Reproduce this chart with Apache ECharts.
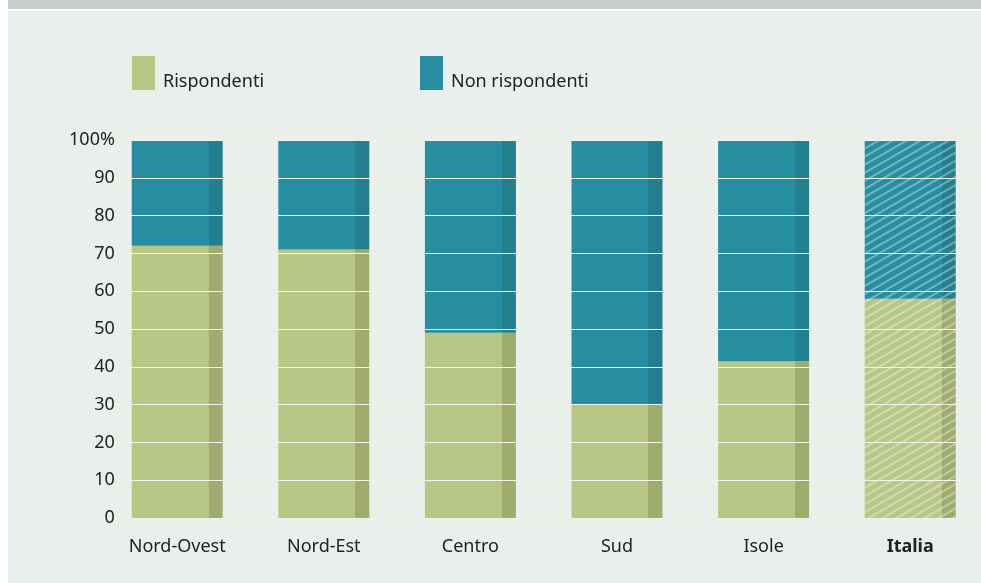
<!DOCTYPE html>
<html>
<head>
<meta charset="utf-8">
<style>
  html, body { margin: 0; padding: 0; background: #fff; overflow: hidden; }
  #chart { width: 990px; height: 583px; }
</style>
<script src="https://cdn.jsdelivr.net/npm/echarts@6/dist/echarts.min.js"></script>
</head>
<body>
<div id="chart"></div>
<script>
// dati (percentuali)
var categories = ['Nord-Ovest', 'Nord-Est', 'Centro', 'Sud', 'Isole', 'Italia'];
var rispondenti = [72, 71, 49, 30, 41.5, 58];
var nonRispondenti = [28, 29, 51, 70, 58.5, 42];
var yTicks = ['0', '10', '20', '30', '40', '50', '60', '70', '80', '90', '100%'];

var green = '#b9c786', greenDark = '#a0ab70';
var teal = '#268ea0', tealDark = '#237e8e';

// colore con la fascia scura a destra della barra
function barColor(c1, c2) {
  return new echarts.graphic.LinearGradient(0, 0, 1, 0, [
    { offset: 0, color: c1 },
    { offset: 0.846, color: c1 },
    { offset: 0.846, color: c2 },
    { offset: 1, color: c2 }
  ]);
}

var hatch = {
  symbol: 'rect',
  symbolSize: 1,
  dashArrayX: [[1, 0]],
  dashArrayY: [2, 5],
  rotation: -Math.PI / 6,
  color: 'rgba(255,255,255,0.35)'
};

function buildData(values, c1, c2) {
  return values.map(function (v, i) {
    var item = { value: v, itemStyle: { color: barColor(c1, c2) } };
    if (categories[i] === 'Italia') item.itemStyle.decal = hatch;
    return item;
  });
}

var chart = echarts.init(document.getElementById('chart'));
var font = '"Noto Sans", sans-serif';

var legendText = {
  fontFamily: font, fontSize: 18, color: '#222',
  rich: { t: { fontFamily: font, fontSize: 18, color: '#222', padding: [18, 0, 0, 3] } }
};
function legendFmt(name) { return '{t|' + name + '}'; }

var option = {
  animation: false,
  backgroundColor: '#ffffff',
  graphic: [
    { type: 'rect', z: -10, shape: { x: 8, y: 0, width: 990, height: 9 }, style: { fill: '#c9cfcf' } },
    { type: 'rect', z: -10, shape: { x: 8, y: 11, width: 990, height: 572 }, style: { fill: '#e9efeb' } }
  ],
  legend: [
    {
      left: 132, top: 56, padding: 0,
      icon: 'rect', itemWidth: 23, itemHeight: 34,
      data: ['Rispondenti'],
      formatter: legendFmt,
      textStyle: legendText
    },
    {
      left: 420, top: 56, padding: 0,
      icon: 'rect', itemWidth: 23, itemHeight: 34,
      data: ['Non rispondenti'],
      formatter: legendFmt,
      textStyle: legendText
    }
  ],
  grid: { left: 103.9, width: 879.6, top: 140, bottom: 65, containLabel: false },
  xAxis: {
    type: 'category',
    data: categories,
    axisLine: { show: false },
    axisTick: { show: false },
    axisLabel: {
      margin: 20,
      fontFamily: font, fontSize: 18, color: '#222',
      formatter: function (v) { return v === 'Italia' ? '{b|' + v + '}' : v; },
      rich: { b: { fontFamily: font, fontSize: 18, fontWeight: 'bold', color: '#222' } }
    }
  },
  yAxis: {
    type: 'value',
    min: 0, max: 100, interval: 10,
    offset: -19,
    z: 3,
    axisLine: { show: false },
    axisTick: { show: false },
    axisLabel: {
      margin: 8,
      fontFamily: font, fontSize: 18, color: '#222',
      padding: [0, 0, 8, 0],
      formatter: function (v) { return yTicks[v / 10]; }
    },
    splitLine: { lineStyle: { color: '#f3f3ea', width: 1.2 } }
  },
  series: [
    {
      name: 'Rispondenti', type: 'bar', stack: 'tot',
      barWidth: 91,
      itemStyle: { color: green },
      data: buildData(rispondenti, green, greenDark)
    },
    {
      name: 'Non rispondenti', type: 'bar', stack: 'tot',
      barWidth: 91,
      itemStyle: { color: teal },
      data: buildData(nonRispondenti, teal, tealDark)
    }
  ]
};
chart.setOption(option);
</script>
</body>
</html>
